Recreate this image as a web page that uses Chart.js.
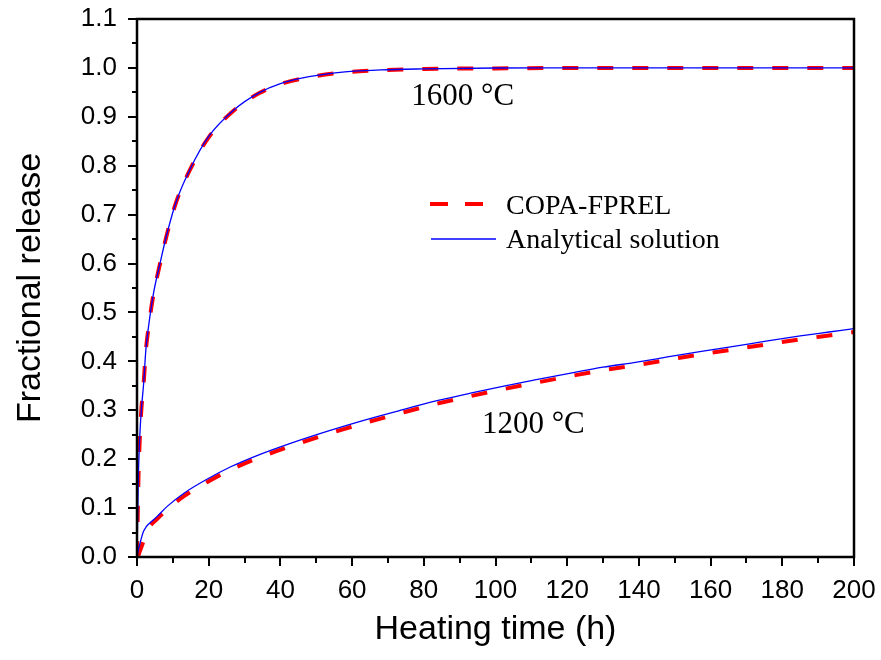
<!DOCTYPE html>
<html>
<head>
<meta charset="utf-8">
<title>Fractional release</title>
<script src="https://cdn.jsdelivr.net/npm/chart.js@4.4.1/dist/chart.umd.min.js"></script>
<style>
  html, body { margin: 0; padding: 0; background: #fff; }
  #wrap { width: 881px; height: 660px; }
</style>
</head>
<body>
<div id="wrap"><canvas id="releaseChart" width="881" height="660"></canvas></div>
<script>
// 1600 °C run
const hours1600 = [0, 0.4, 0.8, 1.2, 1.8, 2.5, 3.2, 4.5, 6.5, 8.5, 11, 15, 20, 27, 34, 40, 48, 58, 68, 80, 100, 120, 140, 160, 180, 200];
const copa1600 = [0, 0.16, 0.245, 0.30, 0.35, 0.424, 0.468, 0.533, 0.602, 0.664, 0.727, 0.795, 0.858, 0.913, 0.948, 0.967, 0.981, 0.991, 0.995, 0.998, 0.999, 1.0, 1.0, 1.0, 1.0, 1.0];
const analytic1600 = [0, 0.17, 0.25, 0.30, 0.35, 0.426, 0.47, 0.535, 0.603, 0.665, 0.728, 0.796, 0.86, 0.914, 0.949, 0.968, 0.982, 0.992, 0.996, 0.998, 0.9998, 1.0, 1.0, 1.0, 1.0, 1.0];

// 1200 °C run
const hours1200 = [0, 0.4, 0.8, 1.2, 1.8, 2.5, 3.2, 5.5, 8.5, 13, 19.5, 26, 34, 43, 53, 63, 73, 84, 93, 102, 111, 121, 130, 139, 148, 157, 166, 175, 185, 193, 200];
const copa1200 = [0, 0.004, 0.012, 0.02, 0.032, 0.045, 0.058, 0.077, 0.098, 0.124, 0.153, 0.178, 0.203, 0.227, 0.251, 0.273, 0.293, 0.314, 0.329, 0.343, 0.356, 0.370, 0.382, 0.392, 0.403, 0.414, 0.424, 0.434, 0.445, 0.453, 0.460];
const analytic1200 = [0, 0.015, 0.027, 0.038, 0.052, 0.061, 0.067, 0.082, 0.104, 0.130, 0.159, 0.184, 0.209, 0.233, 0.257, 0.279, 0.299, 0.320, 0.335, 0.349, 0.362, 0.376, 0.388, 0.398, 0.409, 0.420, 0.430, 0.441, 0.452, 0.460, 0.467];

// axis ticks
const xTickValues = [0, 20, 40, 60, 80, 100, 120, 140, 160, 180, 200];
const yTickValues = [0, 0.1, 0.2, 0.3, 0.4, 0.5, 0.6, 0.7, 0.8, 0.9, 1.0, 1.1];

const seriesNames = ['COPA-FPREL', 'Analytical solution'];
const curveLabels = ['1600 °C', '1200 °C'];

const toPoints = (xs, ys) => xs.map((x, i) => ({ x: x, y: ys[i] }));

const RED = '#ff0000';
const BLUE = '#0000ff';
const redDash = [16, 19];

// frame, tick marks, legend and curve labels drawn over the plot
const decorations = {
  id: 'decorations',
  afterDraw(chart) {
    const { ctx, chartArea: a, scales: { x, y } } = chart;
    ctx.save();
    ctx.strokeStyle = '#000';
    ctx.lineWidth = 2;
    // minor + major ticks
    ctx.beginPath();
    for (let v = 0; v <= 200; v += 10) {
      const px = Math.round(x.getPixelForValue(v));
      const len = v % 20 === 0 ? 9 : 6;
      ctx.moveTo(px, a.bottom);
      ctx.lineTo(px, a.bottom + len);
    }
    for (let k = 0; k <= 22; k++) {
      const py = Math.round(y.getPixelForValue(k * 0.05));
      const len = k % 2 === 0 ? 9 : 5;
      ctx.moveTo(a.left, py);
      ctx.lineTo(a.left - len, py);
    }
    ctx.stroke();
    // box
    ctx.lineWidth = 2.5;
    ctx.strokeRect(a.left, a.top, a.right - a.left, a.bottom - a.top);

    // legend
    ctx.lineWidth = 4;
    ctx.strokeStyle = RED;
    ctx.setLineDash([18, 17]);
    ctx.beginPath();
    ctx.moveTo(430, 204);
    ctx.lineTo(484, 204);
    ctx.stroke();
    ctx.setLineDash([]);
    ctx.lineWidth = 1.3;
    ctx.strokeStyle = BLUE;
    ctx.beginPath();
    ctx.moveTo(431, 239);
    ctx.lineTo(496, 239);
    ctx.stroke();

    ctx.fillStyle = '#000';
    ctx.font = '28px "Liberation Serif"';
    ctx.textAlign = 'left';
    ctx.textBaseline = 'alphabetic';
    ctx.fillText(seriesNames[0], 506, 214);
    ctx.fillText(seriesNames[1], 506, 248);

    // temperature labels
    ctx.font = '31px "Liberation Serif"';
    ctx.fillText(curveLabels[0], x.getPixelForValue(76.5), y.getPixelForValue(0.924));
    ctx.fillText(curveLabels[1], x.getPixelForValue(96.2), y.getPixelForValue(0.254));
    ctx.restore();
  }
};

Chart.defaults.color = '#000';
Chart.defaults.font.family = '"Liberation Sans", Arial, sans-serif';

const ctx = document.getElementById('releaseChart');

new Chart(ctx, {
  type: 'line',
  data: {
    datasets: [
      {
        label: seriesNames[0] + ' 1600',
        data: toPoints(hours1600, copa1600),
        borderColor: RED,
        borderWidth: 4,
        borderDash: redDash,
        order: 1
      },
      {
        label: seriesNames[0] + ' 1200',
        data: toPoints(hours1200, copa1200),
        borderColor: RED,
        borderWidth: 4,
        borderDash: redDash,
        order: 1
      },
      {
        label: seriesNames[1] + ' 1600',
        data: toPoints(hours1600, analytic1600),
        borderColor: BLUE,
        borderWidth: 1.3,
        order: 0
      },
      {
        label: seriesNames[1] + ' 1200',
        data: toPoints(hours1200, analytic1200),
        borderColor: BLUE,
        borderWidth: 1.3,
        order: 0
      }
    ]
  },
  options: {
    responsive: false,
    animation: false,
    parsing: false,
    elements: {
      point: { radius: 0 },
      line: { cubicInterpolationMode: 'monotone', fill: false }
    },
    layout: {
      padding: { left: 0, top: 19, right: 27, bottom: 0 }
    },
    plugins: {
      legend: { display: false },
      tooltip: { enabled: false }
    },
    scales: {
      x: {
        type: 'linear',
        min: 0,
        max: 200,
        afterBuildTicks: (s) => { s.ticks = xTickValues.map(v => ({ value: v })); },
        afterFit: (s) => {
          s.height = 103;
          s.paddingLeft = 0;
          s.paddingRight = 0;
        },
        grid: { display: false, drawTicks: false },
        border: { display: false },
        ticks: {
          font: { size: 26 },
          padding: 18,
          maxRotation: 0,
          autoSkip: false,
          callback: (v) => String(v)
        },
        title: {
          display: true,
          text: 'Heating time (h)',
          font: { size: 34 },
          padding: { top: 0, bottom: 10 }
        }
      },
      y: {
        type: 'linear',
        min: 0,
        max: 1.1,
        afterBuildTicks: (s) => { s.ticks = yTickValues.map(v => ({ value: v })); },
        afterFit: (s) => {
          s.width = 137;
          s.paddingTop = 0;
          s.paddingBottom = 0;
        },
        grid: { display: false, drawTicks: false },
        border: { display: false },
        ticks: {
          font: { size: 26 },
          padding: 20,
          autoSkip: false,
          callback: (v) => Number(v).toFixed(1)
        },
        title: {
          display: true,
          text: 'Fractional release',
          font: { size: 34 },
          padding: { top: 10, bottom: 0 }
        }
      }
    }
  },
  plugins: [decorations]
});
</script>
</body>
</html>
